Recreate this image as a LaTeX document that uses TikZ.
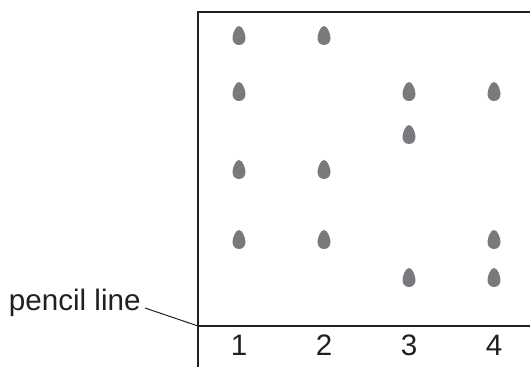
\documentclass[tikz,border=0pt]{standalone}
\usepackage{fontspec}
\setmainfont{Liberation Sans}
\usepackage{tikz}
\usetikzlibrary{positioning,calc}
\definecolor{SpotGrey}{RGB}{122,122,126}
\definecolor{FrameInk}{RGB}{35,31,32}

\begin{document}
\begin{tikzpicture}[
x=0.5pt,y=-0.5pt,
frame/.style={draw=FrameInk,line width=1pt},
base/.style={draw=FrameInk,line width=0.7pt},
lbl/.style={font=\fontsize{14.8}{17}\selectfont,text=FrameInk,inner sep=0pt},
spot/.pic={\fill[SpotGrey] (0,-10) .. controls (3.5,-10) and (6.5,-2) .. (6.5,2) .. controls (6.5,6) and (4,9) .. (0,9) .. controls (-4,9) and (-6.5,6) .. (-6.5,2) .. controls (-6.5,-2) and (-3.5,-10) .. (0,-10) -- cycle;}
]
\useasboundingbox (0,0) rectangle (530,367);
% paper
\coordinate (tl) at (198,12);
\coordinate (tr) at (530,12);
\coordinate (bl) at (198,367);
\coordinate (pl) at (198,326);
\coordinate (pr) at (530,326);
\draw[frame] (tr)--(tl)--(bl);
\draw[base] (pl)--(pr);
% lanes
\foreach \n/\x in {1/239,2/324,3/409,4/494}
  \node[lbl,anchor=base] (lane\n) at (\x,356) {\n};
% spots
\foreach \x/\y in {239/36,239/92,239/170,239/240,
                   324/36,324/170,324/240,
                   409/92,409/135,409/278,
                   494/92,494/240,494/278}
  \pic at (\x,\y) {spot};
% label
\node[lbl,anchor=base east] (pencil) at (141,311) {pencil line};
\coordinate (lead) at (145,308);
\draw[FrameInk,line width=0.5pt] (lead)--(pl);
\end{tikzpicture}
\end{document}
